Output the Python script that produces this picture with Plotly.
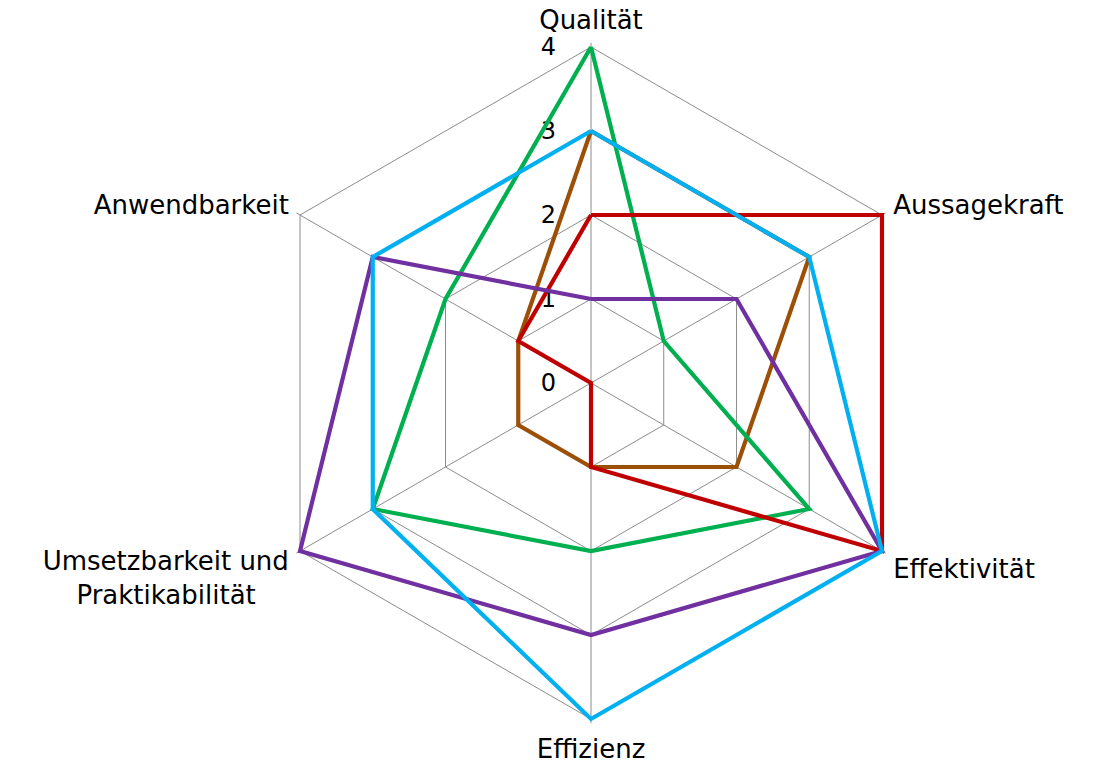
import plotly.graph_objects as go

NB = "\u00a0"
categories = ["Qualität", "Aussagekraft", "Effektivität", "Effizienz",
              "Umsetzbarkeit und<br>Praktikabilität" + NB * 4, "Anwendbarkeit"]

brown = [3, 3, 2, 1, 1, 1]
green = [4, 1, 3, 2, 3, 2]
red = [2, 4, 4, 1, 0, 1]
purple = [1, 2, 4, 3, 4, 3]
blue = [3, 3, 4, 4, 3, 3]

series = [
    ("Reihe 1", brown, "#9C4F06"),
    ("Reihe 2", green, "#00B050"),
    ("Reihe 3", red, "#C00000"),
    ("Reihe 4", purple, "#7030A0"),
    ("Reihe 5", blue, "#00B0F0"),
]

radial_ticks = [0, 1, 2, 3, 4]
r_max = 4.05

fig = go.Figure()
for name, vals, col in series:
    fig.add_trace(go.Scatterpolar(
        r=vals + [vals[0]],
        theta=categories + [categories[0]],
        mode="lines",
        name=name,
        line=dict(color=col, width=4.2),
        cliponaxis=False,
        hoverinfo="skip",
    ))

W, H = 1102, 764
cx, cy = 591, 383
R = 336 * r_max / 4
fig.update_layout(
    width=W, height=H,
    margin=dict(l=0, r=0, t=0, b=0),
    paper_bgcolor="white",
    showlegend=False,
    font=dict(family="DejaVu Sans", size=26, color="black"),
    polar=dict(
        domain=dict(x=[(cx - R) / W, (cx + R) / W],
                    y=[(H - cy - R) / H, (H - cy + R) / H]),
        bgcolor="white",
        gridshape="linear",
        radialaxis=dict(
            range=[0, r_max],
            tickvals=radial_ticks,
            angle=90,
            side="counterclockwise",
            tickangle=90,
            showline=False,
            gridcolor="#8C8C8C",
            gridwidth=1,
            ticks="outside",
            ticklen=26,
            tickcolor="rgba(0,0,0,0)",
            tickfont=dict(size=24, family="DejaVu Sans"),
            layer="below traces",
        ),
        angularaxis=dict(
            rotation=90,
            direction="clockwise",
            showline=False,
            gridcolor="#8C8C8C",
            gridwidth=1,
            ticks="outside",
            ticklen=3,
            tickcolor="rgba(0,0,0,0)",
            tickfont=dict(size=26, family="DejaVu Sans"),
            layer="below traces",
        ),
    ),
)

fig.write_html("out.html")
